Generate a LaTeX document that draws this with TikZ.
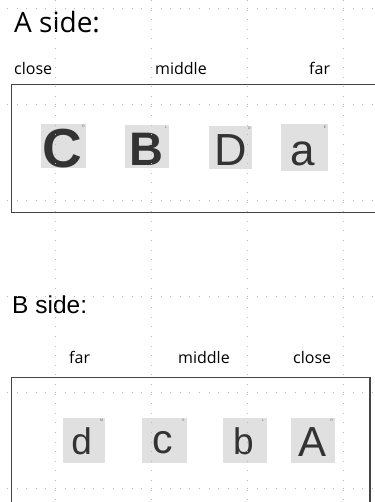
\documentclass[tikz,border=0pt]{standalone}
\usepackage{fontspec}
\setmainfont{Open Sans}
\newfontfamily\arialf{Liberation Sans}
\definecolor{tilegray}{HTML}{E0E0E0}
\definecolor{inkgray}{HTML}{333333}
\definecolor{framegray}{HTML}{444444}
\definecolor{gridgray}{HTML}{BBBBBB}
\tikzset{
  heading/.style={inner sep=0pt, anchor=base west, text=black, font=\fontsize{28}{30}\selectfont},
  headingb/.style={inner sep=0pt, anchor=base west, text=black, font=\arialf\fontsize{24.5}{26}\selectfont},
  poslabel/.style={inner sep=0pt, anchor=base west, text=black, font=\fontsize{16}{18}\selectfont},
  tile/.style={fill=tilegray, draw=none, inner sep=0pt},
  glyph/.style={inner sep=0pt, anchor=base, text=inkgray, text height=0.66em, text depth=0pt},
  tiny/.style={inner sep=0pt, text=black!60, font=\arialf\fontsize{3.5}{4}\selectfont},
  frame/.style={draw=framegray, line width=1.8pt},
  gridline/.style={draw=gridgray, line width=0.9pt, dash pattern=on 0.9pt off 8.7pt}
}
\begin{document}
\begin{tikzpicture}[x=1pt,y=-1pt]
\useasboundingbox (0,0) rectangle (374,502);
\fill[white] (0,0) rectangle (374,502);

% headings and position labels
\node[heading] (aside) at (14,33) {A side:};
\node[poslabel] (aclose) at (14,75) {close};
\node[poslabel] (amiddle) at (155,75) {middle};
\node[poslabel] (afar) at (309,75) {far};

\node[headingb] (bside) at (12,313) {B side:};
\node[poslabel] (bfar) at (69,363) {far};
\node[poslabel] (bmiddle) at (178,363) {middle};
\node[poslabel] (bclose) at (293,363) {close};

% frames
\draw[frame] (11.5,84.5) rectangle (390,212.5);
\draw[frame] (11.5,377.5) rectangle (370,520);

% A side tiles
\node[tile, minimum width=45pt, minimum height=44pt] (t1) at (63.2,146) {};
\node[tile, minimum width=44pt, minimum height=43pt] (t2) at (147,146.5) {};
\node[tile, minimum width=43pt, minimum height=43pt] (t3) at (230.5,147.5) {};
\node[tile, minimum width=47pt, minimum height=47pt] (t4) at (304.5,147.5) {};

\node[glyph, inner xsep=-2pt, font=\arialf\bfseries\fontsize{55}{56}\selectfont] (g1) at (62.4,167.5) {C};
\node[glyph, font=\arialf\bfseries\fontsize{47}{48}\selectfont] (g2) at (146,166) {B};
\node[glyph, font=\arialf\fontsize{45}{46}\selectfont] (g3) at (231,166) {D};
\node[glyph, font=\arialf\fontsize{44}{45}\selectfont] (g4) at (303,165.5) {a};

\node[tiny] (s1) at (83.3,126) {D};
\node[tiny] (s2) at (166,127) {L};
\node[tiny] (s3) at (249.3,128.3) {D};
\node[tiny] (s4) at (325,127.3) {E};

% B side tiles
\node[tile, minimum width=42pt, minimum height=45pt] (u1) at (83.5,440.5) {};
\node[tile, minimum width=45pt, minimum height=45pt] (u2) at (164.5,440.5) {};
\node[tile, minimum width=44pt, minimum height=45pt] (u3) at (245,440.5) {};
\node[tile, minimum width=44pt, minimum height=45pt] (u4) at (313,440.5) {};

\node[glyph, font=\arialf\fontsize{37}{38}\selectfont] (h1) at (81.7,454) {d};
\node[glyph, font=\arialf\fontsize{41}{42}\selectfont] (h2) at (163,453.5) {c};
\node[glyph, font=\arialf\fontsize{37}{38}\selectfont] (h3) at (243.5,454) {b};
\node[glyph, font=\arialf\fontsize{42}{43}\selectfont] (h4) at (313,456) {A};

\node[tiny] (v1) at (101.7,420.3) {M};
\node[tiny] (v2) at (183.3,420.7) {S};
\node[tiny] (v3) at (263.3,420.7) {L};
\node[tiny] (v4) at (331.7,420.7) {H};

% dotted guide grid
\foreach \gx in {55,151,247,343}
  \draw[gridline] (\gx,0) -- (\gx,502);
\foreach \gy in {8.5,104,200,296,392,488}
  \draw[gridline] (7,\gy) -- (374,\gy);
\end{tikzpicture}
\end{document}
